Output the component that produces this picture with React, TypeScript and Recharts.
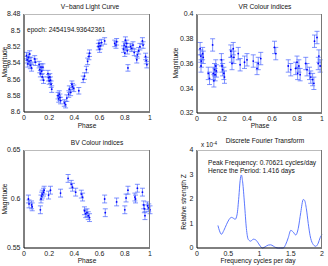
import React from 'react';
import { ScatterChart, Scatter, XAxis, YAxis, ErrorBar, LineChart, Line } from 'recharts';

const FONT = '"Liberation Sans", Arial, Helvetica, sans-serif';

// Tick labels
const phaseTicks = [0, 0.2, 0.4, 0.6, 0.8, 1];
const vTicks = [8.48, 8.5, 8.52, 8.54, 8.56, 8.58, 8.6];
const vrTicks = [0.32, 0.34, 0.36, 0.38, 0.4];
const bvTicks = [0.55, 0.6, 0.65];
const freqTicks = [0, 0.5, 1, 1.5, 2];
const zTicks = [0, 1, 2, 3, 4];

// V-band light curve
const vPhase = [0.02, 0.025, 0.03, 0.035, 0.04, 0.045, 0.05, 0.055, 0.06, 0.085, 0.09,
  0.12, 0.125, 0.13, 0.135, 0.14, 0.145, 0.15, 0.155,
  0.19, 0.195, 0.2, 0.205, 0.21, 0.215, 0.22,
  0.27, 0.275, 0.28, 0.285, 0.29, 0.32, 0.33, 0.34, 0.355, 0.36,
  0.37, 0.38, 0.385, 0.395, 0.435, 0.47, 0.48, 0.495, 0.505, 0.515, 0.52,
  0.59, 0.595, 0.6, 0.605, 0.615, 0.64, 0.72, 0.73, 0.735,
  0.79, 0.795, 0.8, 0.805, 0.81, 0.815, 0.82, 0.825,
  0.845, 0.855, 0.865, 0.875, 0.895, 0.9, 0.91, 0.92, 0.94, 0.945,
  0.965, 0.97, 0.975];
const vMag = [8.531, 8.536, 8.541, 8.533, 8.538, 8.529, 8.543, 8.537, 8.546, 8.535, 8.539,
  8.542, 8.548, 8.553, 8.545, 8.55, 8.557, 8.545, 8.561,
  8.553, 8.558, 8.562, 8.557, 8.561, 8.566, 8.572,
  8.58, 8.584, 8.578, 8.582, 8.586, 8.589, 8.591, 8.583, 8.578, 8.572,
  8.576, 8.566, 8.569, 8.571, 8.574, 8.56, 8.556, 8.548, 8.538, 8.532, 8.528,
  8.52, 8.516, 8.523, 8.519, 8.515, 8.513, 8.516, 8.518, 8.514,
  8.523, 8.518, 8.528, 8.512, 8.52, 8.516, 8.525, 8.546,
  8.52, 8.522, 8.518, 8.527, 8.536, 8.53, 8.525, 8.52, 8.513, 8.518,
  8.532, 8.537, 8.542];
const vErr = 0.004;

// VR colour indices
const vrPhase = [0.025, 0.03, 0.032, 0.035, 0.045, 0.05, 0.09, 0.1,
  0.125, 0.13, 0.135, 0.14, 0.145, 0.15, 0.155,
  0.195, 0.2, 0.205, 0.215, 0.22, 0.27, 0.275, 0.28, 0.29, 0.295,
  0.33, 0.345, 0.38, 0.4, 0.45, 0.48, 0.49, 0.51, 0.62, 0.63, 0.73, 0.75,
  0.79, 0.8, 0.805, 0.815, 0.825, 0.87, 0.88, 0.9, 0.91, 0.925, 0.935,
  0.94, 0.96, 0.97, 0.975, 0.985];
const vrMag = [0.372, 0.366, 0.358, 0.362, 0.368, 0.365, 0.352, 0.348,
  0.375, 0.352, 0.346, 0.355, 0.351, 0.358, 0.354,
  0.363, 0.358, 0.355, 0.352, 0.349, 0.37, 0.366, 0.36, 0.372, 0.365,
  0.368, 0.359, 0.361, 0.363, 0.362, 0.356, 0.36, 0.364, 0.373, 0.368, 0.358, 0.355,
  0.356, 0.361, 0.352, 0.358, 0.351, 0.36, 0.355, 0.352, 0.349, 0.347, 0.344,
  0.378, 0.381, 0.36, 0.366, 0.358];
const vrErr = 0.005;

// BV colour indices
const bvPhase = [0.035, 0.04, 0.06, 0.065, 0.13, 0.135, 0.14, 0.145, 0.155, 0.16,
  0.195, 0.21, 0.29, 0.35, 0.375, 0.385, 0.41, 0.455, 0.465,
  0.48, 0.49, 0.5, 0.51, 0.52, 0.64, 0.645, 0.735, 0.8, 0.81, 0.825,
  0.88, 0.885, 0.9, 0.94, 0.95, 0.955, 0.96, 0.98, 0.99, 1.0];
const bvMag = [0.6, 0.595, 0.594, 0.592, 0.589, 0.6, 0.603, 0.605, 0.607, 0.609,
  0.604, 0.609, 0.606, 0.621, 0.615, 0.612, 0.607, 0.605, 0.602,
  0.588, 0.585, 0.586, 0.583, 0.581, 0.6, 0.586, 0.597, 0.589, 0.601, 0.609,
  0.602, 0.6, 0.611, 0.607, 0.594, 0.59, 0.583, 0.593, 0.591, 0.589];
const bvErr = 0.004;

// Discrete Fourier Transform (x 10^-4)
const dftFreq = [0.335, 0.36, 0.39, 0.43, 0.47, 0.51, 0.55, 0.58, 0.61, 0.64, 0.67, 0.69, 0.71, 0.73, 0.76,
  0.79, 0.82, 0.86, 0.9, 0.94, 0.98, 1.02, 1.05, 1.09, 1.14, 1.18, 1.22, 1.26, 1.3, 1.34, 1.38,
  1.42, 1.46, 1.5, 1.54, 1.58, 1.62, 1.66, 1.7, 1.72, 1.75, 1.78, 1.81, 1.85, 1.9, 1.94, 1.97, 2.0];
const dftZ = [0.92, 0.7, 0.56, 0.72, 0.95, 1.15, 1.25, 1.22, 1.17, 1.35, 2.1, 2.75, 2.98, 2.7, 1.8,
  0.8, 0.35, 0.28, 0.36, 0.33, 0.2, 0.05, 0.0, 0.05, 0.12, 0.13, 0.08, 0.02, 0.0, 0.0, 0.0,
  0.15, 0.42, 0.72, 0.65, 0.53, 0.8, 1.45, 1.98, 1.95, 1.6, 1.0, 0.5, 0.18, 0.07, 0.2, 0.42, 0.55];

const toRows = (xs: number[], ys: number[], e: number) => xs.map((x, i) => ({ x, y: ys[i], e }));
const vData = toRows(vPhase, vMag, vErr);
const vrData = toRows(vrPhase, vrMag, vrErr);
const bvData = toRows(bvPhase, bvMag, bvErr);
const dftData = dftFreq.map((f, i) => ({ f, z: dftZ[i] }));

const BLUE = '#0000ff';
const BAR = '#4a66ff';
const HIDDEN_TICK = { stroke: '#000', strokeOpacity: 0 };

const Dot = (p: any) => <circle cx={p.cx} cy={p.cy} r={0.9} fill={BLUE} />;

// default tickSize (6) + tickMargin (2) leaves 8px; shift labels back towards the axis
const YTick = (p: any) => (
  <text x={p.x + 4.5} y={p.y} dy="0.35em" textAnchor="end" fontSize={7} fill="#222" fontFamily={FONT}>
    {String(p.payload.value)}
  </text>
);
const XTick = (p: any) => (
  <text x={p.x} y={p.y - 5} dy="0.71em" textAnchor="middle" fontSize={7} fill="#222" fontFamily={FONT}>
    {String(p.payload.value)}
  </text>
);

function ErrPanel(props: {
  data: any[]; domain: [number, number]; ticks: number[]; reversed?: boolean;
  margin: any; yWidth: number; xHeight: number; top: number; left: number;
}) {
  const { data, domain, ticks, reversed, margin, yWidth, xHeight, top, left } = props;
  return (
    <div style={{ position: 'absolute', top, left }}>
      <ScatterChart width={164} height={133} margin={margin}>
        <XAxis type="number" dataKey="x" domain={[0, 1]} ticks={phaseTicks} interval={0}
          tick={XTick} tickLine={HIDDEN_TICK} stroke="#000" height={xHeight} />
        <YAxis type="number" dataKey="y" domain={domain} ticks={ticks} interval={0} reversed={reversed}
          tick={YTick} tickLine={HIDDEN_TICK} stroke="#000" width={yWidth} />
        <Scatter data={data} shape={Dot} isAnimationActive={false}>
          <ErrorBar dataKey="e" direction="y" width={2.5} stroke={BAR} strokeWidth={0.7} isAnimationActive={false} />
        </Scatter>
      </ScatterChart>
    </div>
  );
}

function DftPanel() {
  return (
    <div style={{ position: 'absolute', top: 133, left: 164 }}>
      <LineChart width={164} height={133} data={dftData} margin={{ top: 17, right: 6, bottom: 0, left: 0 }}>
        <XAxis type="number" dataKey="f" domain={[0, 2]} ticks={freqTicks} interval={0}
          tick={XTick} tickLine={HIDDEN_TICK} stroke="#000" height={18} />
        <YAxis type="number" domain={[0, 4]} ticks={zTicks} interval={0}
          tick={YTick} tickLine={HIDDEN_TICK} stroke="#000" width={33} />
        <Line type="monotone" dataKey="z" stroke="#5c78ff" strokeWidth={1} dot={false} isAnimationActive={false} />
      </LineChart>
    </div>
  );
}

const T = (p: { x: number; y: number; children: any; anchor?: string; rotate?: boolean; size?: number }) => (
  <text x={p.x} y={p.y} textAnchor={(p.anchor || 'middle') as any} fontSize={p.size || 6.6} fill="#111"
    fontFamily={FONT} transform={p.rotate ? `rotate(-90 ${p.x} ${p.y})` : undefined}>{p.children}</text>
);

// axes frame (top and right edges of each plot box)
const Frame = (p: { x0: number; y0: number; x1: number; y1: number }) => (
  <g>
    <line x1={p.x0} y1={p.y0 + 0.5} x2={p.x1} y2={p.y0 + 0.5} stroke="#bbb" strokeWidth={1} />
    <line x1={p.x1 - 0.5} y1={p.y0} x2={p.x1 - 0.5} y2={p.y1} stroke="#777" strokeWidth={1} />
  </g>
);

export default function App() {
  return (
    <div style={{ position: 'absolute', top: 0, left: 0, width: 328, height: 266, background: '#fff' }}>
      <ErrPanel data={vData} domain={[8.48, 8.6]} ticks={vTicks} reversed
        margin={{ top: 14, right: 14, bottom: 0, left: 0 }} yWidth={24} xHeight={21} top={0} left={0} />
      <ErrPanel data={vrData} domain={[0.32, 0.4]} ticks={vrTicks}
        margin={{ top: 14, right: 6, bottom: 0, left: 0 }} yWidth={33} xHeight={20} top={0} left={164} />
      <ErrPanel data={bvData} domain={[0.55, 0.65]} ticks={bvTicks}
        margin={{ top: 17, right: 14, bottom: 0, left: 0 }} yWidth={24} xHeight={18} top={133} left={0} />
      <DftPanel />
      <svg width={328} height={266} style={{ position: 'absolute', top: 0, left: 0, pointerEvents: 'none' }}>
        <Frame x0={24} y0={14} x1={150} y1={112} />
        <Frame x0={197} y0={14} x1={322} y1={113} />
        <Frame x0={24} y0={150} x1={150} y1={248} />
        <Frame x0={197} y0={150} x1={322} y1={248} />
        <T x={90} y={8.5}>V−band Light Curve</T>
        <T x={265} y={8.5}>VR Colour indices</T>
        <T x={97} y={144.5}>BV Colour indices</T>
        <T x={265} y={143}>Discrete Fourier Transform</T>
        <T x={27} y={32} anchor="start">epoch: 2454194.93642361</T>
        <T x={208} y={164.5} anchor="start">Peak Frequency: 0.70621 cycles/day</T>
        <T x={208} y={172.5} anchor="start">Hence the Period: 1.416 days</T>
        <text x={201} y={147} fontSize={6.3} fill="#111" fontFamily={FONT}>x 10<tspan dy={-2.5} fontSize={4.5}>-4</tspan></text>
        <T x={87} y={128}>Phase</T>
        <T x={260} y={128}>Phase</T>
        <T x={87} y={263}>Phase</T>
        <T x={258} y={263}>Frequency cycles per day</T>
        <T x={6.5} y={62} rotate>Magnitude</T>
        <T x={178} y={63} rotate>Magnitude</T>
        <T x={6.5} y={199} rotate>Magnitude</T>
        <T x={186} y={202} rotate>Relative strength Z</T>
      </svg>
    </div>
  );
}
